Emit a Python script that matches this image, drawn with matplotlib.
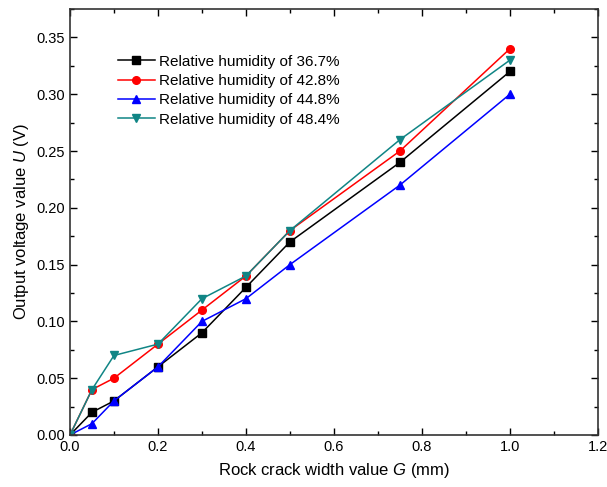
import matplotlib
matplotlib.use("Agg")
import matplotlib.pyplot as plt
from matplotlib.ticker import MultipleLocator

plt.rcParams["font.family"] = ["Liberation Sans", "DejaVu Sans"]
plt.rcParams["mathtext.fontset"] = "custom"
plt.rcParams["mathtext.it"] = "Liberation Sans:italic"
plt.rcParams["mathtext.rm"] = "Liberation Sans"

# ---- data -------------------------------------------------------------
crack_width = [0, 0.05, 0.1, 0.2, 0.3, 0.4, 0.5, 0.75, 1.0]
rh_367 = [0, 0.02, 0.03, 0.06, 0.09, 0.13, 0.17, 0.24, 0.32]
rh_428 = [0, 0.04, 0.05, 0.08, 0.11, 0.14, 0.18, 0.25, 0.34]
rh_448 = [0, 0.01, 0.03, 0.06, 0.10, 0.12, 0.15, 0.22, 0.30]
rh_484 = [0, 0.04, 0.07, 0.08, 0.12, 0.14, 0.18, 0.26, 0.33]
labels = ["Relative humidity of 36.7%", "Relative humidity of 42.8%",
          "Relative humidity of 44.8%", "Relative humidity of 48.4%"]

series = [
    (rh_367, "black", "s"),
    (rh_428, "red", "o"),
    (rh_448, "blue", "^"),
    (rh_484, "#108585", "v"),
]

fig = plt.figure(figsize=(6.07, 4.87), dpi=100)
ax = fig.add_axes([0.1153, 0.1068, 0.8697, 0.8747])

for (vals, color, marker), label in zip(series, labels):
    ax.plot(crack_width, vals, color=color, marker=marker, markersize=5.5,
            linewidth=1.1, label=label)

ax.set_xlim(0, 1.2)
ax.set_ylim(0, 0.375)
ax.xaxis.set_major_locator(MultipleLocator(0.2))
ax.xaxis.set_minor_locator(MultipleLocator(0.1))
ax.yaxis.set_major_locator(MultipleLocator(0.05))
ax.yaxis.set_minor_locator(MultipleLocator(0.025))
ax.xaxis.set_major_formatter(matplotlib.ticker.FormatStrFormatter("%.1f"))
ax.yaxis.set_major_formatter(matplotlib.ticker.FormatStrFormatter("%.2f"))
ax.tick_params(which="both", direction="in", top=True, right=True,
               labelsize=10.5, width=1)
ax.tick_params(which="major", length=5)
ax.tick_params(which="minor", length=3)
for sp in ax.spines.values():
    sp.set_linewidth(1.2)
    sp.set_color("#333333")

ax.set_xlabel("Rock crack width value $G$ (mm)", fontsize=12, labelpad=5)
ax.set_ylabel("Output voltage value $U$ (V)", fontsize=12, labelpad=4)

ax.legend(loc="upper left", bbox_to_anchor=(0.065, 0.925), frameon=False,
          fontsize=11, handlelength=2.4, handletextpad=0.3, labelspacing=0.35)

fig.savefig("out.png", dpi=100)
